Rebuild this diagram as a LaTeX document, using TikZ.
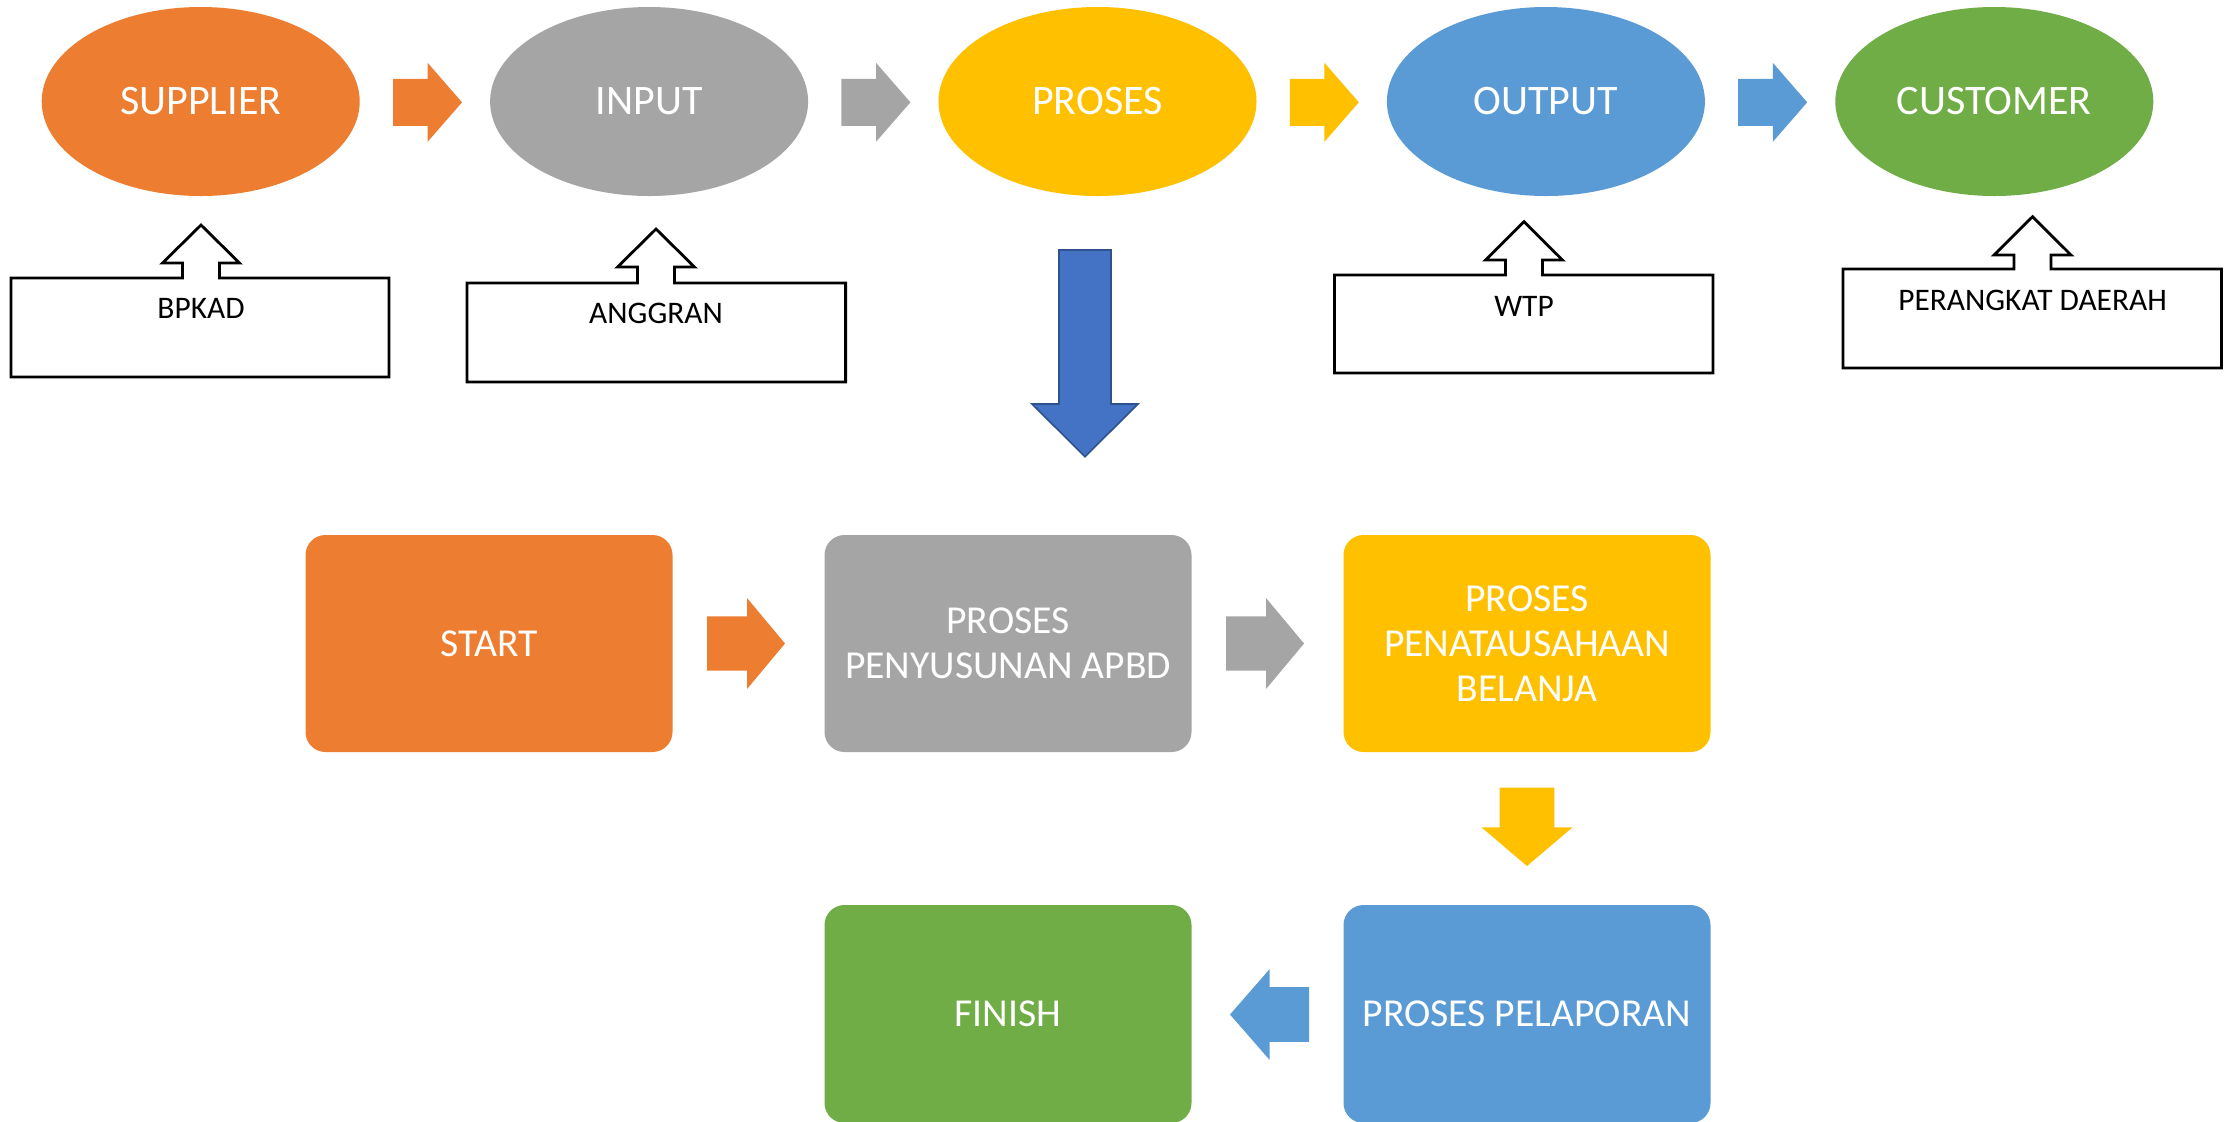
\documentclass[tikz,border=0pt]{standalone}
\usepackage{fontspec}
\setmainfont{Carlito}
\usetikzlibrary{shapes.geometric}
\definecolor{cOrange}{HTML}{ED7D31}
\definecolor{cGray}{HTML}{A5A5A5}
\definecolor{cYellow}{HTML}{FFC000}
\definecolor{cBlue}{HTML}{5B9BD5}
\definecolor{cGreen}{HTML}{70AD47}
\definecolor{cDark}{HTML}{4472C4}
\definecolor{cDarkLine}{HTML}{2F528F}
% right block arrow: #1 left x, #2 centre y, #3 colour
\newcommand\rBlock[3]{\fill[#3] (#1,{#2-23.5}) -- ({#1+34.6},{#2-23.5}) -- ({#1+34.6},{#2-39.5}) -- ({#1+69},#2) -- ({#1+34.6},{#2+39.5}) -- ({#1+34.6},{#2+23.5}) -- (#1,{#2+23.5}) -- cycle;}
% callout: #1 xl, #2 xr, #3 ytop, #4 ybot, #5 xc, #6 tip, #7 head base
\newcommand\calloutShape[7]{\draw[calline] (#1,#3) -- ({#5-18.5},#3) -- ({#5-18.5},#7) -- ({#5-38.5},#7) -- (#5,#6) -- ({#5+38.5},#7) -- ({#5+18.5},#7) -- ({#5+18.5},#3) -- (#2,#3) -- (#2,#4) -- (#1,#4) -- cycle;}
\begin{document}
\begin{tikzpicture}[x=0.5pt,y=-0.5pt,
  oval/.style={ellipse, inner sep=0pt, minimum width=159pt, minimum height=94.5pt, text=white, font=\fontsize{21}{25}\selectfont},
  procbox/.style={rectangle, rounded corners=10pt, inner sep=0pt, minimum width=183.5pt, minimum height=108.5pt, text=white, align=center, font=\fontsize{19.8}{22.5}\selectfont},
  calline/.style={draw=black, line width=1.4pt, line join=miter},
  caltext/.style={inner sep=0pt, text=black, font=\fontsize{15.7}{18}\selectfont}]
\useasboundingbox (0,0) rectangle (2232,1121);
\fill[white] (0,0) rectangle (2232,1121);

% top row
\node[oval, fill=cOrange] (sup) at (200.7,101.5) {SUPPLIER};
\node[oval, fill=cGray]   (inp) at (649.1,101.5) {INPUT};
\node[oval, fill=cYellow] (pro) at (1097.5,101.5) {PROSES};
\node[oval, fill=cBlue]   (out) at (1545.9,101.5) {OUTPUT};
\node[oval, fill=cGreen]  (cus) at (1994.3,101.5) {CUSTOMER};

\rBlock{393}{102.3}{cOrange}
\rBlock{841.4}{102.3}{cGray}
\rBlock{1289.8}{102.3}{cYellow}
\rBlock{1738.2}{102.3}{cBlue}

% callouts
\calloutShape{11}{389}{278}{377}{201}{225}{263}
\node[caltext] (bpkad) at (201,308) {BPKAD};
\calloutShape{467}{845.6}{283}{382}{656}{229}{267}
\node[caltext] (angg) at (656,313) {ANGGRAN};
\calloutShape{1334.5}{1713}{275}{373}{1524}{221.7}{260}
\node[caltext] (wtp) at (1524,306.7) {WTP};
\calloutShape{1843}{2221.5}{269}{368}{2032.5}{216.7}{255}
\node[caltext] (pd) at (2032.5,300) {PERANGKAT DAERAH};

% big down arrow
\filldraw[fill=cDark, draw=cDarkLine, line width=0.8pt, line join=miter]
  (1059,250) -- (1111,250) -- (1111,404) -- (1138,404) -- (1085,456.7) -- (1032,404) -- (1059,404) -- cycle;

% bottom process boxes
\node[procbox, fill=cOrange] (start) at (489,643.5) {START};
\node[procbox, fill=cGray]   (apbd)  at (1008,643.5) {PROSES\\PENYUSUNAN APBD};
\node[procbox, fill=cYellow] (bel)   at (1527,643.5) {PROSES\\PENATAUSAHAAN\\BELANJA};
\node[procbox, fill=cGreen, minimum height=109pt]  (fin)   at (1008,1014) {FINISH};
\node[procbox, fill=cBlue, minimum height=109pt]   (lap)   at (1527,1014) {PROSES PELAPORAN};

% bottom arrows
\fill[cOrange] (707,616.3) -- (747,616.3) -- (747,598) -- (785,643.5) -- (747,689) -- (747,670.7) -- (707,670.7) -- cycle;
\fill[cGray] (1226,616.3) -- (1266,616.3) -- (1266,598) -- (1304,643.5) -- (1266,689) -- (1266,670.7) -- (1226,670.7) -- cycle;
\fill[cYellow] (1499.7,787.7) -- (1554.3,787.7) -- (1554.3,827.3) -- (1572.5,827.3) -- (1527,866) -- (1481.5,827.3) -- (1499.7,827.3) -- cycle;
\fill[cBlue] (1309,987.2) -- (1269.7,987.2) -- (1269.7,969) -- (1230,1014.5) -- (1269.7,1060) -- (1269.7,1041.8) -- (1309,1041.8) -- cycle;
\end{tikzpicture}
\end{document}
